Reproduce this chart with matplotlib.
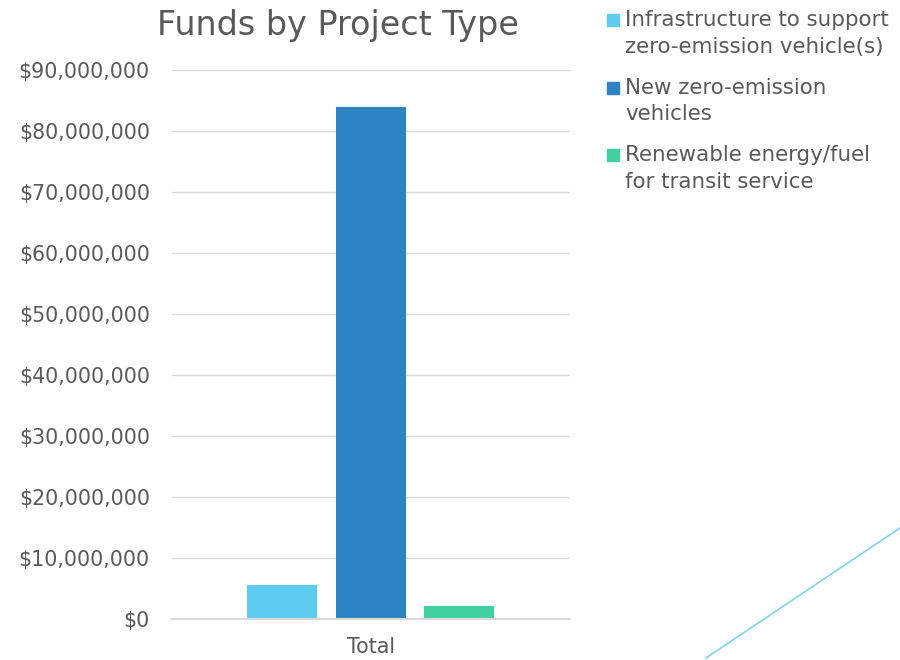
import matplotlib.pyplot as plt
from matplotlib.patches import Rectangle
from matplotlib.lines import Line2D
from matplotlib.ticker import FuncFormatter

plt.rcParams['font.family'] = ['DejaVu Sans']

# data
category = 'Total'
project_types = ['Infrastructure to support zero-emission vehicle(s)',
                 'New zero-emission vehicles',
                 'Renewable energy/fuel for transit service']
legend_lines = [['Infrastructure to support', 'zero-emission vehicle(s)'],
                ['New zero-emission', 'vehicles'],
                ['Renewable energy/fuel', 'for transit service']]
funds = [5600000, 84000000, 2100000]
colors = ['#5ECBF0', '#2E83C2', '#43D0A0']

text_col = '#595959'
grid_col = '#D9D9D9'

fig = plt.figure(figsize=(9, 6.6), dpi=100)
ax = fig.add_axes([172/900, 1-619/660, 398/900, 549/660])

width = 0.176
offsets = [-0.2236, 0, 0.2212]
for i in range(len(funds)):
    ax.bar(offsets[i], funds[i], width=width, color=colors[i], zorder=3,
           label=project_types[i])

ax.set_xlim(-0.5, 0.5)
ax.set_ylim(0, 90000000)
ax.set_yticks(range(0, 90000001, 10000000))
ax.yaxis.set_major_formatter(FuncFormatter(lambda v, p: '${:,.0f}'.format(v)))
ax.set_xticks([0])
ax.set_xticklabels([category])
ax.tick_params(axis='both', length=0, labelsize=14.8, colors=text_col)
ax.tick_params(axis='y', pad=16)
ax.tick_params(axis='x', pad=13)
ax.grid(axis='y', color=grid_col, linewidth=1, zorder=0)
for s in ['top', 'right', 'left']:
    ax.spines[s].set_visible(False)
ax.spines['bottom'].set_color(grid_col)
ax.spines['bottom'].set_linewidth(1.5)
ax.spines['bottom'].set_zorder(4)

fig.text(338/900, 1-25/660, 'Funds by Project Type', ha='center', va='center',
         fontsize=24, color=text_col)

# legend drawn by hand so handles sit on the first line
for i, lines in enumerate(legend_lines):
    y0 = 20 + i * 67.5
    fig.patches.append(Rectangle((607/900, 1-(y0+6)/660), 12/900, 12/660,
                                 transform=fig.transFigure, color=colors[i]))
    for j, line in enumerate(lines):
        fig.text(625/900, 1-(y0 + j*27)/660, line, ha='left', va='center',
                 fontsize=15.4, color=text_col)

# decorative line bottom right
fig.add_artist(Line2D([706/900, 1.0], [1-658/660, 1-528/660],
                      color='#7FD3F0', linewidth=1.2, transform=fig.transFigure))

fig.savefig('out.png', dpi=100, facecolor='white')
